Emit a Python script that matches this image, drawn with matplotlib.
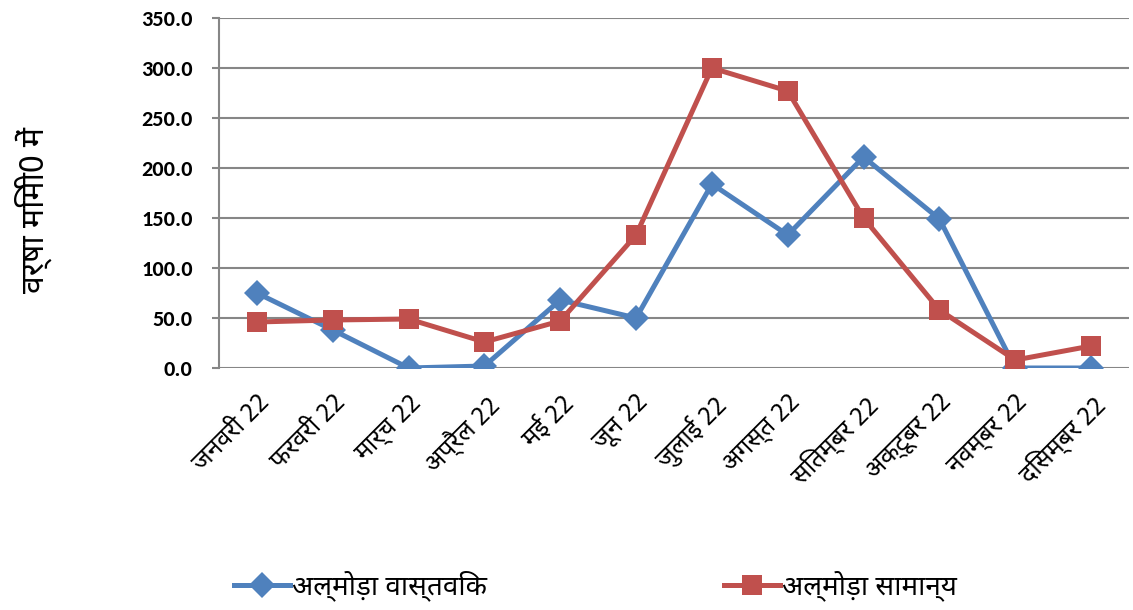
import matplotlib
matplotlib.use("Agg")
import matplotlib.pyplot as plt
from matplotlib.lines import Line2D

# =========================================================
# DATA
# =========================================================

months = [
    "जनवरी 22", "फरवरी 22", "मार्च 22", "अप्रैल 22", "मई 22", "जून 22",
    "जुलाई 22", "अगस्त 22", "सितम्बर 22", "अक्टूबर 22", "नवम्बर 22", "दिसम्बर 22",
]

actual = [75.0, 38.0, 0.0, 2.0, 68.0, 50.0, 184.0, 133.0, 211.0, 149.0, 0.0, 0.0]
normal = [46.0, 48.0, 49.0, 26.0, 47.0, 133.0, 300.0, 277.0, 150.0, 58.0, 8.0, 22.0]

label_actual = "अल्मोड़ा वास्तविक"
label_normal = "अल्मोड़ा सामान्य"
ylabel = "वर्षा मिमी0 में"

yticks = [0, 50, 100, 150, 200, 250, 300, 350]

# =========================================================
# STYLE
# =========================================================

deva = ["Noto Sans Devanagari", "Mukta", "Poppins", "DejaVu Sans"]
num_font = ["Carlito", "Lato", "DejaVu Sans"]

blue = "#4F81BD"
red = "#C0504D"
grid_col = "#868686"

W, H = 1133, 610

# =========================================================
# FIGURE
# =========================================================

fig = plt.figure(figsize=(W / 100, H / 100), dpi=100)
ax = fig.add_axes([219 / W, 1 - 368 / H, 910 / W, 350 / H])

x = list(range(len(months)))

blue_style = dict(color=blue, linewidth=3.6, marker="D", markersize=13,
                  markeredgewidth=0)
red_style = dict(color=red, linewidth=3.6, marker="s", markersize=14,
                 markeredgewidth=0)

ax.plot(x, actual, zorder=3, **blue_style)
ax.plot(x, normal, zorder=4, **red_style)

ax.set_xlim(-0.5, len(months) - 0.5)
ax.set_ylim(0, 350)
ax.set_yticks(yticks)
ax.set_yticklabels([f"{v:.1f}" for v in yticks], family=num_font,
                   fontweight="bold", fontsize=16)

ax.yaxis.grid(True, color=grid_col, linewidth=1.5)
ax.set_axisbelow(True)

for side in ["top", "right", "bottom"]:
    ax.spines[side].set_visible(False)
ax.spines["left"].set_color(grid_col)
ax.spines["left"].set_linewidth(1.5)
ax.tick_params(axis="y", length=5, width=1.5, color=grid_col, pad=14)
ax.tick_params(axis="x", length=0, pad=16)

ax.set_xticks(x)
ax.set_xticklabels(months, rotation=45, ha="right", rotation_mode="anchor",
                   family=deva, fontsize=18)

fig.text(33 / W, 1 - 210 / H, ylabel, rotation=90, ha="center",
         va="center", family=deva, fontsize=23)

# =========================================================
# LEGEND (two entries placed separately)
# =========================================================

for style, text, x0 in [(blue_style, label_actual, 234),
                        (red_style, label_normal, 724)]:
    fig.legend([Line2D([], [], **style)], [text], loc="center left",
               bbox_to_anchor=(x0 / W, 1 - 586 / H), frameon=False,
               borderpad=0, borderaxespad=0, handlelength=2.0,
               handletextpad=0.1, prop={"family": deva, "size": 20})

fig.savefig("out.png", dpi=100)
